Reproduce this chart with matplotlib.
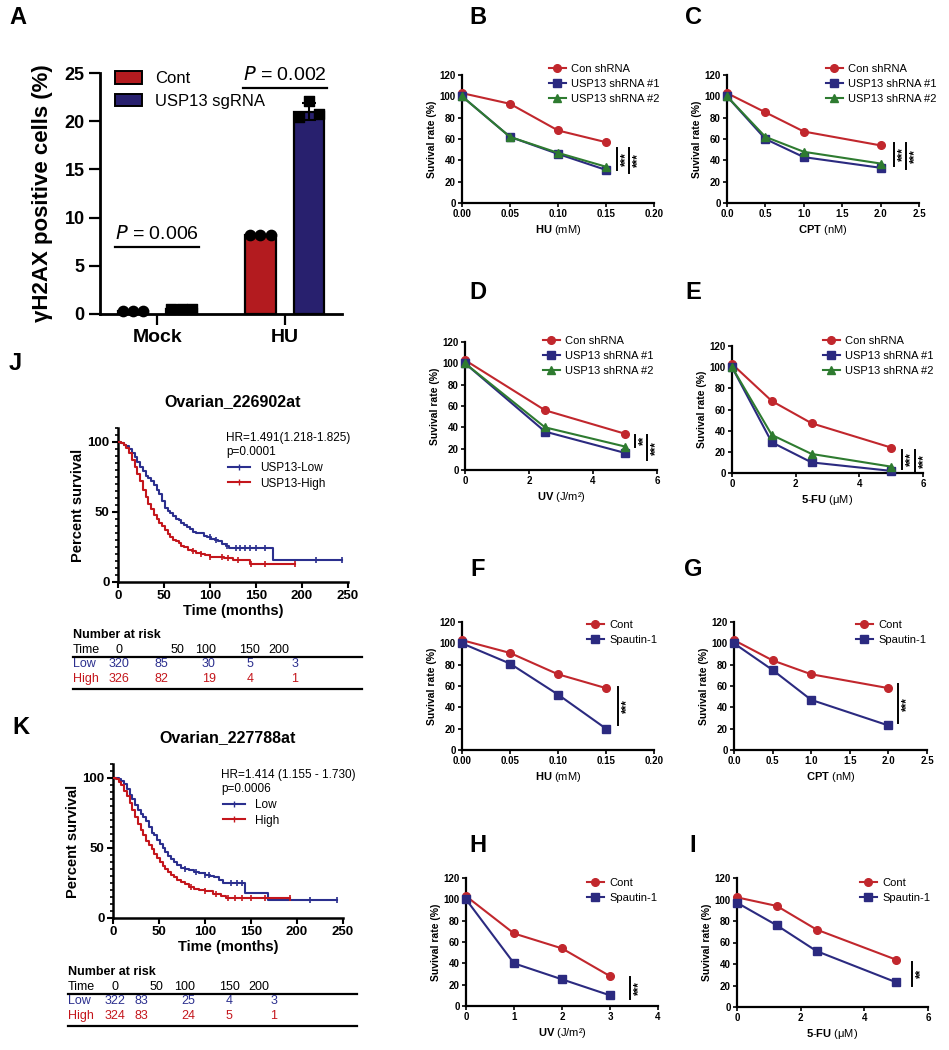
import numpy as np
import matplotlib
matplotlib.use("Agg")
from matplotlib import pyplot as plt
from matplotlib.lines import Line2D
from matplotlib.patches import Patch
from matplotlib.ticker import MultipleLocator

plt.rcParams['font.family'] = ['Liberation Sans', 'DejaVu Sans']
plt.rcParams['mathtext.fontset'] = 'custom'
plt.rcParams['mathtext.rm'] = 'Liberation Sans'
plt.rcParams['mathtext.bf'] = 'Liberation Sans:bold'

W, H = 949, 1050

RED = '#C1272D'
NAVY = '#2B2A80'
GREEN = '#2E7B30'
BAR_RED = '#B31B1F'
BAR_NAVY = '#28206E'
KM_BLUE = '#2B2F8E'
KM_RED = '#C4161C'

# ---- panel A data
a_groups = ['Mock', 'HU']
a_cont = [0.3, 8.2]
a_sg = [0.5, 21.0]
a_sg_sd = [0.05, 0.9]
a_cont_pts = [[0.3, 0.3, 0.3], [8.2, 8.2, 8.2]]
a_sg_pts = [[0.5, 0.5, 0.5], [20.4, 22.1, 20.7]]
a_pvals = ['0.006', '0.002']
a_pline = [6.9, 23.4]

# ---- survival assay data
hu_dose = [0, 0.05, 0.10, 0.15]
cpt_dose = [0, 0.5, 1.0, 2.0]
uv_dose_sh = [0, 2.5, 5]
fu_dose = [0, 1.25, 2.5, 5]
uv_dose_sp = [0, 1, 2, 3]

b_con = [103, 93, 68, 57]
b_sh1 = [100, 62, 46, 31]
b_sh2 = [100, 62, 47, 34]

c_con = [103, 85, 67, 54]
c_sh1 = [100, 60, 43, 33]
c_sh2 = [100, 62, 48, 37]

d_con = [103, 56, 34]
d_sh1 = [100, 36, 16]
d_sh2 = [100, 40, 22]

e_con = [103, 68, 47, 24]
e_sh1 = [100, 29, 10, 2]
e_sh2 = [100, 36, 18, 6]

f_cont = [103, 91, 71, 58]
f_spa = [100, 81, 52, 20]

g_cont = [103, 84, 71, 58]
g_spa = [100, 75, 47, 23]

h_cont = [103, 68, 54, 28]
h_spa = [100, 40, 25, 10]

i_cont = [102, 94, 72, 44]
i_spa = [97, 76, 52, 23]

# ---- Kaplan-Meier data (step points)
j_low_t = [0, 3, 6, 9, 12, 15, 18, 21, 24, 27, 30, 33, 36, 39, 42, 45, 48, 51, 54, 57, 60,
           63, 66, 69, 72, 75, 78, 81, 85, 89, 93, 97, 101, 105, 109, 113, 117, 121, 168, 243]
j_low_s = [100, 99, 98, 97, 95, 92, 89, 86, 82, 79, 76, 74, 72, 69, 66, 63, 58, 53, 51, 49, 47,
           45, 44, 42, 41, 39, 38, 36, 35, 35, 33, 32, 31, 30, 29, 27, 26, 24, 16, 16]
j_high_t = [0, 3, 6, 9, 12, 15, 18, 21, 24, 27, 30, 33, 36, 39, 42, 45, 48, 51, 54, 57, 60,
            63, 66, 69, 72, 76, 80, 85, 90, 95, 100, 107, 115, 125, 143, 192]
j_high_s = [100, 99, 98, 96, 92, 87, 82, 77, 72, 66, 61, 56, 52, 48, 45, 42, 40, 37, 34, 32, 30,
            29, 28, 26, 25, 23, 22, 21, 20, 19, 18, 18, 17, 16, 13, 13]
j_low_cens = [100, 106, 118, 128, 133, 138, 143, 150, 160, 215, 243]
j_high_cens = [82, 90, 100, 113, 120, 130, 145, 160, 192]

k_low_t = [0, 3, 6, 9, 12, 15, 18, 21, 24, 27, 30, 33, 36, 39, 42, 45, 48, 51, 54, 57, 60,
           63, 66, 70, 74, 78, 83, 88, 94, 100, 105, 110, 115, 120, 143, 168, 243]
k_low_s = [100, 100, 99, 98, 96, 92, 88, 85, 81, 77, 74, 72, 69, 65, 61, 59, 56, 53, 50, 47, 44,
           42, 40, 38, 36, 35, 34, 33, 32, 31, 30, 29, 27, 25, 18, 13, 13]
k_high_t = [0, 3, 6, 9, 12, 15, 18, 21, 24, 27, 30, 33, 36, 39, 42, 45, 48, 51, 54, 57, 60,
            63, 66, 70, 74, 78, 83, 88, 94, 100, 109, 117, 123, 192]
k_high_s = [100, 99, 97, 95, 91, 87, 82, 77, 72, 67, 63, 59, 55, 52, 49, 46, 43, 40, 37, 35, 33,
            31, 29, 27, 26, 24, 22, 21, 20, 19, 17, 16, 14, 14]
k_low_cens = [78, 90, 100, 104, 128, 135, 140, 214, 243]
k_high_cens = [85, 100, 112, 125, 133, 140, 150, 165, 192]

risk_times = [0, 50, 100, 150, 200]
j_risk_low = [320, 85, 30, 5, 3]
j_risk_high = [326, 82, 19, 4, 1]
k_risk_low = [322, 83, 25, 4, 3]
k_risk_high = [324, 83, 24, 5, 1]

fig = plt.figure(figsize=(W / 100, H / 100), dpi=100)


def px_axes(x0, x1, ytop, ybot):
    return fig.add_axes([x0 / W, 1 - ybot / H, (x1 - x0) / W, (ybot - ytop) / H])


def fx(x):
    return x / W


def fy(y):
    return 1 - y / H


def panel_letter(x, y, s):
    fig.text(fx(x), fy(y), s, fontsize=17, fontweight='bold', ha='center', va='center')


# ================= A =================
ax = px_axes(100, 342, 73, 314)
xpos = np.arange(len(a_groups))
off, bw = 0.19, 0.24
ax.bar(xpos - off, a_cont, bw, color=BAR_RED, edgecolor='black', linewidth=1.6, zorder=2)
ax.bar(xpos + off, a_sg, bw, color=BAR_NAVY, edgecolor='black', linewidth=1.6, zorder=2)
ax.errorbar(xpos + off, a_sg, yerr=a_sg_sd, fmt='none', ecolor='black', elinewidth=1.5,
            capsize=5, capthick=1.5, zorder=3)
jit = [-0.08, 0, 0.08]
for i in range(len(a_groups)):
    ax.scatter(xpos[i] - off + np.array(jit), a_cont_pts[i], s=55, color='black', zorder=4,
               clip_on=False)
    ax.scatter(xpos[i] + off + np.array(jit), a_sg_pts[i], s=55, marker='s', color='black',
               zorder=4, clip_on=False)
for i in range(len(a_groups)):
    ax.plot([xpos[i] - off - 0.14, xpos[i] + off + 0.14], [a_pline[i], a_pline[i]],
            color='black', lw=1.6)
    ax.text(xpos[i], a_pline[i] + 0.5, r'$\it{P}$ = ' + a_pvals[i], ha='center', va='bottom',
            fontsize=14)
ax.set_xlim(-0.45, 1.45)
ax.set_ylim(0, 25)
ax.set_yticks([0, 5, 10, 15, 20, 25])
ax.set_xticks(xpos)
ax.set_xticklabels(a_groups, fontsize=14, fontweight='bold')
for lb in ax.get_yticklabels():
    lb.set_fontweight('bold')
    lb.set_fontsize(13)
ax.tick_params(width=1.6, length=8, pad=3)
for s in ['top', 'right']:
    ax.spines[s].set_visible(False)
for s in ['left', 'bottom']:
    ax.spines[s].set_linewidth(2)
ax.set_ylabel('γH2AX positive cells (%)', fontsize=16, fontweight='bold', labelpad=8)
ax.legend(handles=[Patch(facecolor=BAR_RED, edgecolor='black', linewidth=1.4, label='Cont'),
                   Patch(facecolor=BAR_NAVY, edgecolor='black', linewidth=1.4, label='USP13 sgRNA')],
          loc='upper left', bbox_to_anchor=(fx(115), fy(71)), bbox_transform=fig.transFigure,
          frameon=False, fontsize=12, handlelength=1.6, handleheight=0.8, labelspacing=0.45,
          handletextpad=0.8, borderaxespad=0, borderpad=0)
panel_letter(18, 18, 'A')


# ================= survival line plots =================
def surv_panel(rect, dose, series, xmax, xstep, xlabel, legx, legy, sig, fmt='{:.0f}'):
    ax = px_axes(*rect)
    for vals, color, marker, lab in series:
        ax.plot(dose, vals, color=color, marker=marker, markersize=5.5, lw=1.5, label=lab,
                clip_on=False, zorder=3)
    ax.set_xlim(0, xmax)
    ax.set_ylim(0, 120)
    ax.set_yticks(np.arange(0, 121, 20))
    ticks = np.arange(0, xmax + 1e-9, xstep)
    ax.set_xticks(ticks)
    ax.set_xticklabels([fmt.format(t) for t in ticks])
    for lb in ax.get_xticklabels() + ax.get_yticklabels():
        lb.set_fontweight('bold')
        lb.set_fontsize(7)
    ax.tick_params(width=1.2, length=3, pad=1.5)
    for s in ['top', 'right']:
        ax.spines[s].set_visible(False)
    for s in ['left', 'bottom']:
        ax.spines[s].set_linewidth(1.6)
    ax.set_ylabel('Suvival rate (%)', fontsize=7.5, fontweight='bold', labelpad=2)
    ax.set_xlabel(xlabel, fontsize=8, labelpad=3)
    ax.legend(loc='upper left', bbox_to_anchor=(fx(legx), fy(legy)), bbox_transform=fig.transFigure,
              frameon=False, fontsize=8, handlelength=1.5, labelspacing=0.45, handletextpad=0.5,
              borderaxespad=0, borderpad=0)
    for xs, y0, y1, stars in sig:
        ax.plot([xs, xs], [y0, y1], color='black', lw=1.4, clip_on=False)
        ax.text(xs + xmax * 0.016, (y0 + y1) / 2, stars, rotation=90, ha='left', va='center',
                fontsize=8.5, fontweight='bold')
    return ax


sh3 = lambda a, b, c: [(a, RED, 'o', 'Con shRNA'), (b, NAVY, 's', 'USP13 shRNA #1'),
                       (c, GREEN, '^', 'USP13 shRNA #2')]
sp2 = lambda a, b: [(a, RED, 'o', 'Cont'), (b, NAVY, 's', 'Spautin-1')]

surv_panel((462, 654, 75, 203), hu_dose, sh3(b_con, b_sh1, b_sh2), 0.20, 0.05,
           r'$\mathbf{HU}$ (mM)', 549, 64, [(0.161, 52, 31, '***'), (0.174, 52, 28, '***')],
           '{:.2f}')
surv_panel((727, 919, 75, 203), cpt_dose, sh3(c_con, c_sh1, c_sh2), 2.5, 0.5,
           r'$\mathbf{CPT}$ (nM)', 826, 64, [(2.18, 56, 35, '***'), (2.33, 56, 32, '***')],
           '{:.1f}')
surv_panel((465, 657, 342, 470), uv_dose_sh, sh3(d_con, d_sh1, d_sh2), 6, 2,
           r'$\mathbf{UV}$ (J/m²)', 543, 336, [(5.3, 33, 22, '**'), (5.7, 33, 9, '***')])
surv_panel((732, 923, 346, 473), fu_dose, sh3(e_con, e_sh1, e_sh2), 6, 2,
           r'$\mathbf{5}$-$\mathbf{FU}$ (μM)', 823, 336, [(5.35, 22, 4, '***'), (5.75, 22, 0, '***')])
surv_panel((462, 654, 622, 750), hu_dose, sp2(f_cont, f_spa), 0.20, 0.05,
           r'$\mathbf{HU}$ (mM)', 587, 620, [(0.163, 59, 23, '***')], '{:.2f}')
surv_panel((734, 927, 622, 750), cpt_dose, sp2(g_cont, g_spa), 2.5, 0.5,
           r'$\mathbf{CPT}$ (nM)', 856, 620, [(2.12, 62, 25, '***')], '{:.1f}')
surv_panel((466, 658, 878, 1006), uv_dose_sp, sp2(h_cont, h_spa), 4, 1,
           r'$\mathbf{UV}$ (J/m²)', 587, 878, [(3.42, 27, 7, '***')])
surv_panel((737, 928, 878, 1007), fu_dose, sp2(i_cont, i_spa), 6, 2,
           r'$\mathbf{5}$-$\mathbf{FU}$ (μM)', 860, 878, [(5.5, 42, 20, '**')])

for (x, y, s) in [(478, 18, 'B'), (693, 18, 'C'), (478, 293, 'D'), (693, 293, 'E'),
                  (478, 569, 'F'), (693, 569, 'G'), (478, 845, 'H'), (693, 845, 'I')]:
    panel_letter(x, y, s)


# ================= Kaplan-Meier =================
def km_panel(rect, title, low, high, hr_lines, labels, txt_xy, leg_xy):
    ax = px_axes(*rect)
    for (t, s, cens), color in [(low, KM_BLUE), (high, KM_RED)]:
        ax.step(t, s, where='post', color=color, lw=1.5, zorder=3)
        idx = np.searchsorted(t, cens, side='right') - 1
        ax.plot(cens, np.array(s)[idx], linestyle='none', marker='|', markersize=4,
                markeredgewidth=1.2, color=color, zorder=3, clip_on=False)
    ax.set_xlim(0, 250)
    ax.set_ylim(0, 110)
    ax.set_yticks([0, 50, 100])
    ax.set_xticks(np.arange(0, 251, 50))
    ax.yaxis.set_minor_locator(MultipleLocator(5))
    for lb in ax.get_xticklabels() + ax.get_yticklabels():
        lb.set_fontweight('bold')
        lb.set_fontsize(9.5)
    ax.tick_params(width=1.5, length=4, pad=2)
    ax.tick_params(which='minor', axis='y', width=1.2, length=2.5)
    for s in ['top', 'right']:
        ax.spines[s].set_visible(False)
    for s in ['left', 'bottom']:
        ax.spines[s].set_linewidth(1.8)
    ax.set_ylabel('Percent survival', fontsize=10.5, fontweight='bold', labelpad=2)
    ax.set_xlabel('Time (months)', fontsize=10.5, fontweight='bold', labelpad=1)
    ax.set_title(title, fontsize=11.5, fontweight='bold', pad=16)
    fig.text(fx(txt_xy[0]), fy(txt_xy[1]), hr_lines, fontsize=8.5, ha='left', va='top',
             linespacing=1.2)
    handles = [Line2D([], [], color=KM_BLUE, lw=1.5, marker='|', markersize=4, label=labels[0]),
               Line2D([], [], color=KM_RED, lw=1.5, marker='|', markersize=4, label=labels[1])]
    ax.legend(handles=handles, loc='upper left', bbox_to_anchor=(fx(leg_xy[0]), fy(leg_xy[1])),
              bbox_transform=fig.transFigure, frameon=False, fontsize=8.5, handlelength=1.9,
              labelspacing=0.3, handletextpad=0.8, borderaxespad=0, borderpad=0)
    return ax


def risk_table(x0, x1, ytitle, xs, low, high):
    fig.text(fx(x0), fy(ytitle), 'Number at risk', fontsize=9, fontweight='bold', va='center')
    y_time = ytitle + 15
    y_low = y_time + 14
    y_high = y_low + 15
    fig.text(fx(x0), fy(y_time), 'Time', fontsize=9, va='center')
    fig.text(fx(x0), fy(y_low), 'Low', fontsize=9, va='center', color=KM_BLUE)
    fig.text(fx(x0), fy(y_high), 'High', fontsize=9, va='center', color=KM_RED)
    for i, t in enumerate(risk_times):
        fig.text(fx(xs[0][i]), fy(y_time), str(t), fontsize=9, va='center', ha='center')
        fig.text(fx(xs[1][i]), fy(y_low), str(low[i]), fontsize=9, va='center', ha='center',
                 color=KM_BLUE)
        fig.text(fx(xs[1][i]), fy(y_high), str(high[i]), fontsize=9, va='center', ha='center',
                 color=KM_RED)
    for yl in [y_time + 7, y_high + 10]:
        fig.add_artist(Line2D([fx(x0), fx(x1)], [fy(yl), fy(yl)], color='black', lw=1.6))


km_panel((118, 348, 428, 582), 'Ovarian_226902at',
         (j_low_t, j_low_s, j_low_cens), (j_high_t, j_high_s, j_high_cens),
         'HR=1.491(1.218-1.825)\np=0.0001', ['USP13-Low', 'USP13-High'], (226, 432), (228, 462))
risk_table(73, 362, 635, [[119, 177, 206, 250, 279], [119, 161, 209, 250, 295]],
           j_risk_low, j_risk_high)

km_panel((113, 343, 764, 918), 'Ovarian_227788at',
         (k_low_t, k_low_s, k_low_cens), (k_high_t, k_high_s, k_high_cens),
         'HR=1.414 (1.155 - 1.730)\np=0.0006', ['Low', 'High'], (221, 769), (223, 799))
risk_table(68, 357, 972, [[115, 156, 185, 230, 259], [115, 141, 188, 229, 274]],
           k_risk_low, k_risk_high)

panel_letter(15, 364, 'J')
panel_letter(21, 727, 'K')

fig.savefig('out.png', dpi=100, facecolor='white')
